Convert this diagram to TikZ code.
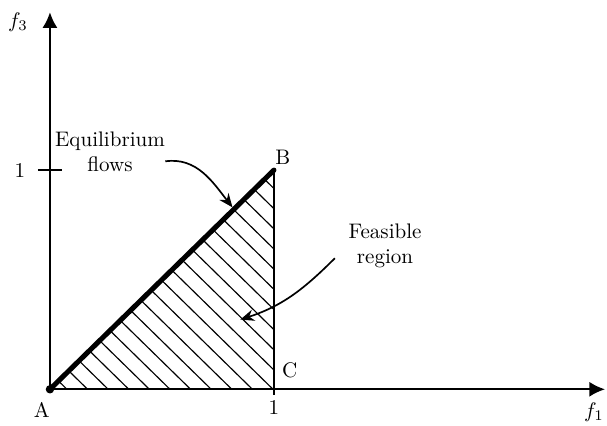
\documentclass[tikz,border=0pt]{standalone}
\usepackage{amsmath,amssymb}
\usetikzlibrary{arrows.meta}

\tikzset{
  axis/.style={-{Latex[length=2.6mm,width=2.5mm]}, line width=0.95pt},
  hatch/.style={line width=0.55pt},
  pointer/.style={-{Stealth[length=2.3mm,width=1.9mm]}, line width=0.8pt},
}

\begin{document}
\begin{tikzpicture}[x=3.74cm,y=3.66cm,line join=round]
  \useasboundingbox (-0.223,-0.164) rectangle (2.487,1.776);

  % corner points
  \coordinate (A) at (0,0);
  \coordinate (B) at (1,1);
  \coordinate (C) at (1,0);
  \coordinate (xend) at (2.478,0);
  \coordinate (yend) at (0,1.72);

  % hatching of the feasible region
  \begin{scope}
    \clip (A) -- (B) -- (C) -- cycle;
    \foreach \k in {0,...,21}{
      \pgfmathsetmacro{\t}{0.076+0.092*\k}
      \draw[hatch] (\t,0) -- ++(-1.2,1.2);
    }
  \end{scope}

  % axes
  \draw[axis] (A) -- (xend);
  \draw[axis] (A) -- (yend);
  \node (lf1) at (2.429,-0.105) {$f_1$};
  \node (lf3) at (-0.143,1.676) {$f_3$};

  % ticks
  \draw[line width=0.95pt] (-0.054,1) -- (0.054,1);
  \draw[line width=0.95pt] (1,0) -- (1,-0.027);
  \node (ty) at (-0.134,1) {1};
  \node (tx) at (1,-0.082) {1};

  % triangle
  \draw[line width=0.95pt] (B) -- (C);
  \draw[line width=2.4pt, line cap=round] (A) -- (B);
  \fill (A) circle (2pt);

  \node (lA) at (-0.036,-0.096) {A};
  \node (lB) at (1.04,1.06) {B};
  \node (lC) at (1.07,0.087) {C};

  % annotations
  \node[align=center] (eq) at (0.268,1.082) {Equilibrium\\flows};
  \coordinate (eqtip) at (0.815,0.83);
  \draw[pointer] (0.515,1.04) to[out=8,in=128] (eqtip);

  \node[align=center] (fr) at (1.496,0.653) {Feasible\\region};
  \coordinate (frtip) at (0.85,0.318);
  \draw[pointer] (1.272,0.598) to[out=225,in=18] (frtip);
\end{tikzpicture}
\end{document}
